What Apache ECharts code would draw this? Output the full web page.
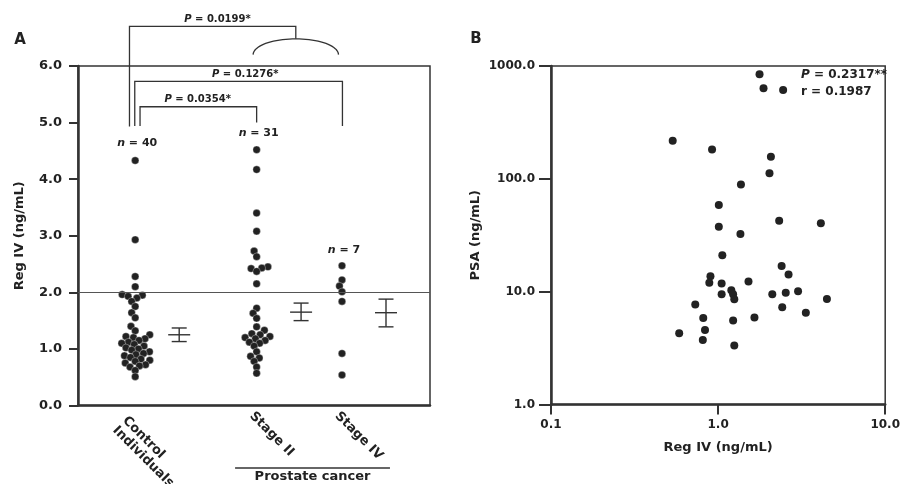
<!DOCTYPE html>
<html><head><meta charset="utf-8">
<script src="https://cdn.jsdelivr.net/npm/echarts@6/dist/echarts.min.js"></script>
<style>html,body{margin:0;padding:0;background:#fff;}#c{width:903px;height:484px;}</style>
</head><body><div id="c"></div>
<script>
// ---------- Panel A data ----------
const groupNames = ['Control\nIndividuals', 'Stage II', 'Stage IV'];
const groupX = [1.3, 4.06, 6.0];          // slots on the hidden horizontal scale
const meanX = [2.3, 5.07, 7.0];
const controlValues = [4.33, 2.93, 2.28, 2.10, 1.96, 1.95, 1.93, 1.90, 1.84, 1.75, 1.64, 1.55, 1.40, 1.32,
  1.25, 1.22, 1.20, 1.18, 1.15, 1.12, 1.10, 1.08, 1.05, 1.02, 1.00, 0.98, 0.95, 0.92, 0.90, 0.88,
  0.85, 0.82, 0.80, 0.78, 0.75, 0.72, 0.70, 0.68, 0.62, 0.51];
const stage2Values = [4.52, 4.17, 3.40, 3.08, 2.73, 2.63, 2.45, 2.43, 2.42, 2.37, 2.15, 1.72, 1.63, 1.54,
  1.39, 1.33, 1.27, 1.25, 1.22, 1.20, 1.18, 1.15, 1.12, 1.10, 1.05, 0.95, 0.87, 0.84, 0.78, 0.68, 0.57];
const stage4Values = [2.47, 2.22, 2.11, 2.01, 1.84, 0.92, 0.54];
const meanValues = [1.25, 1.65, 1.64];
const semLow = [1.13, 1.50, 1.39];
const semHigh = [1.37, 1.81, 1.88];
const nLabels = ['{i|n} = 40', '{i|n} = 31', '{i|n} = 7'];
const nLabelY = [4.63, 4.82, 2.75];
const cutoffValue = 2.0;
const cancerSpan = [3.57, 7.09];
const cancerLabel = 'Prostate cancer';
// comparison brackets
const bracketLabels = ['{i|P} = 0.0199*', '{i|P} = 0.1276*', '{i|P} = 0.0354*'];
const bracketFrom = [1.17, 1.29, 1.41];
const bracketTo = [4.95, 6.01, 4.06];
const bracketTop = [6.70, 5.73, 5.28];
const bracketFromEnd = [4.93, 4.94, 4.94];
const bracketToEnd = [6.48, 4.94, 5.00];
const bracketLabelX = [3.17, 3.80, 2.72];
const arcSpan = [3.98, 5.92];
const arcLevels = [6.20, 6.48];

// ---------- Panel B data ----------
const regIV = [1.77, 1.87, 2.45, 0.535, 0.92, 2.07, 2.03, 1.37, 1.01, 2.32, 4.12, 1.01, 1.36, 1.06, 2.40, 2.64,
  0.90, 0.886, 1.05, 1.52, 1.20, 1.23, 1.25, 1.05, 3.01, 2.54, 2.11, 4.48, 2.42, 3.35, 0.73, 0.815, 1.65, 1.23,
  0.835, 0.585, 0.81, 1.25];
const psa = [843, 634, 612, 218, 182, 157, 112, 89, 58.6, 42.5, 40.3, 37.6, 32.4, 21, 16.9, 14.2,
  13.7, 12.0, 11.8, 12.3, 10.3, 9.5, 8.55, 9.5, 10.1, 9.8, 9.5, 8.6, 7.26, 6.5, 7.7, 5.83, 5.9, 5.56,
  4.57, 4.27, 3.72, 3.34];
const statLines = ['{i|P} = 0.2317**', 'r = 0.1987'];

// ---------- styling ----------
const LINE = '#333';
const INK = '#222';
const FONT = '"DejaVu Sans", sans-serif';
const labelOffset = [[-15.5, 18], [-5, 8.6], [-5, 8.6]];
const richI = (size) => ({ i: { fontStyle: 'italic', fontWeight: 'bold', fontSize: size, fontFamily: FONT, fill: INK } });
const tstyle = (o) => Object.assign({ fill: INK, fontFamily: FONT, fontWeight: 'bold' }, o);
const axisText = (size) => ({ color: INK, fontFamily: FONT, fontWeight: 'bold', fontSize: size });
const dotStyle = { color: INK, borderColor: 'rgba(255,255,255,0.55)', borderWidth: 0.6, opacity: 1 };

const chart = echarts.init(document.getElementById('c'));

const option = {
  animation: false,
  backgroundColor: '#fff',
  grid: [
    { left: 78, top: 66, width: 352, height: 339.5, show: true, borderColor: LINE, borderWidth: 1.5 },
    { left: 551, top: 66, width: 338, height: 338.5, show: true, borderColor: LINE, borderWidth: 1.5 }
  ],
  xAxis: [
    { type: 'value', gridIndex: 0, min: 0, max: 8,
      axisLine: { show: true, onZero: false, lineStyle: { color: LINE, width: 2.5 } },
      axisTick: { show: false }, axisLabel: { show: false }, splitLine: { show: false } },
    { type: 'log', gridIndex: 1, min: 0.1, max: 10, logBase: 10,
      axisLine: { show: true, onZero: false, lineStyle: { color: LINE, width: 2.5 } },
      axisTick: { show: true, length: 10, lineStyle: { color: LINE, width: 2 } },
      minorTick: { show: false },
      axisLabel: Object.assign({ margin: 14, formatter: v => Number(v).toFixed(1) }, axisText(12)),
      splitLine: { show: false },
      name: 'Reg IV (ng/mL)', nameLocation: 'middle', nameGap: 37, nameTextStyle: axisText(13) }
  ],
  yAxis: [
    { type: 'value', gridIndex: 0, min: 0, max: 6, interval: 1,
      axisLine: { show: true, lineStyle: { color: LINE, width: 2.5 } },
      axisTick: { show: true, length: 9, lineStyle: { color: LINE, width: 2 } },
      axisLabel: Object.assign({ margin: 16, formatter: v => Number(v).toFixed(1) }, axisText(13)),
      splitLine: { show: false },
      name: 'Reg IV (ng/mL)', nameLocation: 'middle', nameGap: 52, nameTextStyle: axisText(13) },
    { type: 'log', gridIndex: 1, min: 1, max: 1000, logBase: 10,
      axisLine: { show: true, lineStyle: { color: LINE, width: 2.5 } },
      axisTick: { show: true, length: 12, lineStyle: { color: LINE, width: 2 } },
      minorTick: { show: false },
      axisLabel: Object.assign({ margin: 16, formatter: v => Number(v).toFixed(1) }, axisText(12)),
      splitLine: { show: false },
      name: 'PSA (ng/mL)', nameLocation: 'middle', nameGap: 69, nameTextStyle: axisText(13) }
  ],
  series: [
    { id: 'control', type: 'scatter', xAxisIndex: 0, yAxisIndex: 0, symbolSize: 7.5, itemStyle: dotStyle,
      data: controlValues.map(v => [groupX[0], v]),
      markLine: { silent: true, symbol: 'none', label: { show: false },
        lineStyle: { color: '#555', width: 1.2, type: 'solid' }, data: [{ yAxis: cutoffValue }] } },
    { id: 'stage2', type: 'scatter', xAxisIndex: 0, yAxisIndex: 0, symbolSize: 7.5, itemStyle: dotStyle,
      data: stage2Values.map(v => [groupX[1], v]) },
    { id: 'stage4', type: 'scatter', xAxisIndex: 0, yAxisIndex: 0, symbolSize: 7.5, itemStyle: dotStyle,
      data: stage4Values.map(v => [groupX[2], v]) },
    { type: 'custom', xAxisIndex: 0, yAxisIndex: 0, clip: false, silent: true,
      data: meanX.map((x, i) => [x, meanValues[i], semLow[i], semHigh[i]]),
      encode: { x: 0, y: 1 },
      renderItem: (params, api) => {
        const x = api.value(0);
        const pm = api.coord([x, api.value(1)]);
        const pl = api.coord([x, api.value(2)]);
        const ph = api.coord([x, api.value(3)]);
        const s = { stroke: LINE, lineWidth: 1.4 };
        return { type: 'group', children: [
          { type: 'line', shape: { x1: pm[0], y1: pl[1], x2: pm[0], y2: ph[1] }, style: s },
          { type: 'line', shape: { x1: pm[0] - 7.5, y1: pl[1], x2: pm[0] + 7.5, y2: pl[1] }, style: s },
          { type: 'line', shape: { x1: pm[0] - 7.5, y1: ph[1], x2: pm[0] + 7.5, y2: ph[1] }, style: s },
          { type: 'line', shape: { x1: pm[0] - 11, y1: pm[1], x2: pm[0] + 11, y2: pm[1] }, style: s }
        ] };
      } },
    { type: 'custom', xAxisIndex: 0, yAxisIndex: 0, clip: false, silent: true,
      data: bracketLabels.map((_, i) => [bracketFrom[i], bracketTop[i]]),
      encode: { x: 0, y: 1 },
      renderItem: (params, api) => {
        const i = params.dataIndex;
        const a = api.coord([bracketFrom[i], bracketFromEnd[i]]);
        const b = api.coord([bracketFrom[i], bracketTop[i]]);
        const c = api.coord([bracketTo[i], bracketTop[i]]);
        const d = api.coord([bracketTo[i], bracketToEnd[i]]);
        const t = api.coord([bracketLabelX[i], bracketTop[i]]);
        const children = [
          { type: 'polyline', shape: { points: [a, b, c, d] }, style: { stroke: LINE, lineWidth: 1.3, fill: null } },
          { type: 'text', style: tstyle({ text: bracketLabels[i], x: t[0], y: t[1] - 2, align: 'center',
              verticalAlign: 'bottom', fontSize: 10, rich: richI(10) }) }
        ];
        if (i === 0) {
          const l = api.coord([arcSpan[0], arcLevels[0]]);
          const r = api.coord([arcSpan[1], arcLevels[0]]);
          const top = api.coord([arcSpan[0], arcLevels[1]]);
          const cx = (l[0] + r[0]) / 2, rx = (r[0] - l[0]) / 2, ry = l[1] - top[1];
          const pts = [];
          for (let k = 0; k <= 40; k++) {
            const ang = Math.PI + Math.PI * k / 40;
            pts.push([cx + rx * Math.cos(ang), l[1] + ry * Math.sin(ang)]);
          }
          children.push({ type: 'polyline', shape: { points: pts }, style: { stroke: LINE, lineWidth: 1.3, fill: null } });
        }
        return { type: 'group', children };
      } },
    { type: 'custom', xAxisIndex: 0, yAxisIndex: 0, clip: false, silent: true,
      data: groupX.map((x, i) => [x, nLabelY[i]]),
      encode: { x: 0, y: 1 },
      renderItem: (params, api) => {
        const p = api.coord([api.value(0), api.value(1)]);
        return { type: 'text', style: tstyle({ text: nLabels[params.dataIndex], x: p[0] + 2, y: p[1],
          align: 'center', verticalAlign: 'middle', fontSize: 11, rich: richI(11) }) };
      } },
    { type: 'custom', xAxisIndex: 0, yAxisIndex: 0, clip: false, silent: true,
      data: groupX.map(x => [x, 0]),
      encode: { x: 0, y: 1 },
      renderItem: (params, api) => {
        const i = params.dataIndex;
        const p = api.coord([api.value(0), 0]);
        const children = [{ type: 'text', x: p[0] + labelOffset[i][0], y: p[1] + labelOffset[i][1],
          rotation: -Math.PI / 4,
          style: tstyle({ text: groupNames[i], x: 0, y: 0, align: 'left', verticalAlign: 'middle',
            fontSize: 13, lineHeight: 14 }) }];
        if (i === 1) {
          const a = api.coord([cancerSpan[0], 0]);
          const b = api.coord([cancerSpan[1], 0]);
          children.push({ type: 'line', shape: { x1: a[0], y1: a[1] + 62.5, x2: b[0], y2: b[1] + 62.5 },
            style: { stroke: LINE, lineWidth: 1.3 } });
          children.push({ type: 'text', style: tstyle({ text: cancerLabel, x: (a[0] + b[0]) / 2, y: a[1] + 71,
            align: 'center', verticalAlign: 'middle', fontSize: 13 }) });
        }
        return { type: 'group', children };
      } },
    { id: 'psa', type: 'scatter', xAxisIndex: 1, yAxisIndex: 1, symbolSize: 8,
      itemStyle: { color: INK, opacity: 1 },
      data: regIV.map((x, i) => [x, psa[i]]) }
  ],
  graphic: [
    { type: 'text', x: 20, y: 40, style: tstyle({ text: 'A', fontSize: 15, align: 'center', verticalAlign: 'middle' }) },
    { type: 'text', x: 476, y: 39, style: tstyle({ text: 'B', fontSize: 15, align: 'center', verticalAlign: 'middle' }) },
    { type: 'text', x: 801, y: 75, style: tstyle({ text: statLines[0], fontSize: 12, align: 'left', verticalAlign: 'middle', rich: richI(12) }) },
    { type: 'text', x: 801, y: 92, style: tstyle({ text: statLines[1], fontSize: 12, align: 'left', verticalAlign: 'middle' }) }
  ]
};

chart.setOption(option);

// beeswarm layout computed from the chart's own scale
function swarmData(values, gx) {
  const D = 6.2;
  const base = chart.convertToPixel({ gridIndex: 0 }, [gx, 0]);
  const pts = values.map(v => ({ v, py: chart.convertToPixel({ gridIndex: 0 }, [gx, v])[1], ox: 0 }));
  const order = pts.slice().sort((a, b) => a.v - b.v);
  const placed = [];
  order.forEach(p => {
    const cands = [0];
    placed.forEach(q => {
      const dy = p.py - q.py;
      if (Math.abs(dy) < D) {
        const dx = Math.sqrt(D * D - dy * dy);
        cands.push(q.ox + dx, q.ox - dx);
      }
    });
    cands.sort((a, b) => Math.abs(a) - Math.abs(b) || a - b);
    for (const c of cands) {
      if (placed.every(q => (c - q.ox) ** 2 + (p.py - q.py) ** 2 >= D * D - 0.01)) { p.ox = c; break; }
    }
    placed.push(p);
  });
  return pts.map(p => [chart.convertFromPixel({ gridIndex: 0 }, [base[0] + p.ox, p.py])[0], p.v]);
}

chart.setOption({ series: [
  { id: 'control', data: swarmData(controlValues, groupX[0]) },
  { id: 'stage2', data: swarmData(stage2Values, groupX[1]) },
  { id: 'stage4', data: swarmData(stage4Values, groupX[2]) }
] });
</script>
</body></html>
